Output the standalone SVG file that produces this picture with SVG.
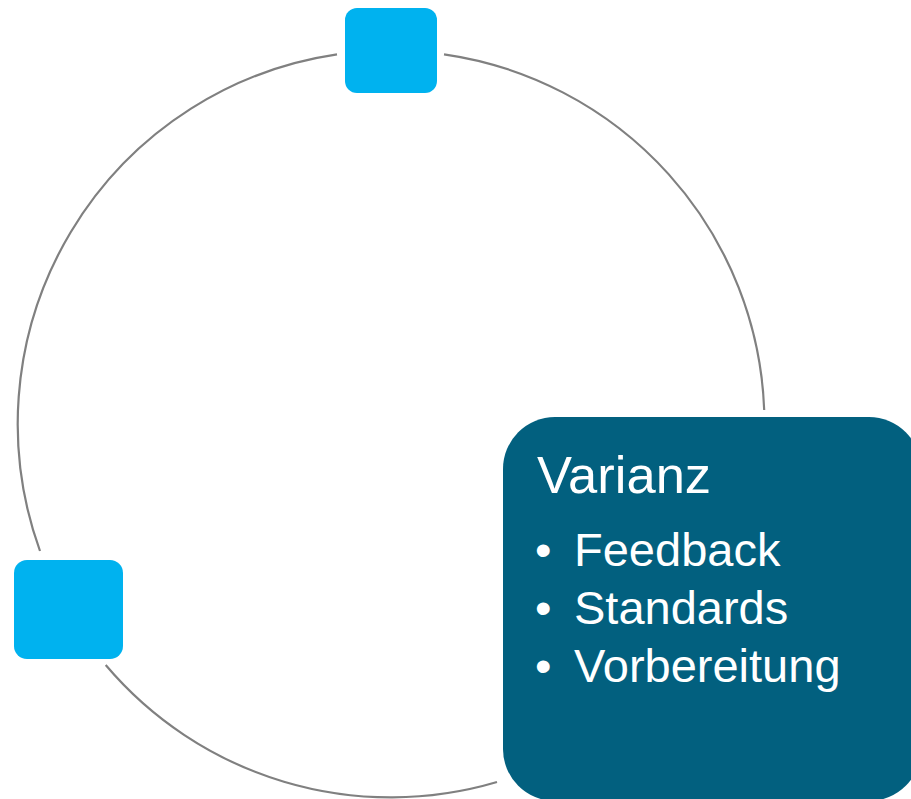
<svg xmlns="http://www.w3.org/2000/svg" width="911" height="799" viewBox="0 0 911 799">
<style>
.arc{fill:none;stroke:#808080;stroke-width:2.2}
.sq{fill:#00B2EF}
.big{fill:#02607F}
.t{font-family:"Liberation Sans",Arial,sans-serif;fill:#FFFFFF}
</style>
<rect width="911" height="799" fill="#FFFFFF"/>
<g id="connectors">
<path class="arc" d="M444,54.3 A373.5,373.5 0 0 1 764.2,410"/>
<path class="arc" d="M497,782 A373.5,373.5 0 0 1 105.7,665"/>
<path class="arc" d="M40,551 A373.5,373.5 0 0 1 337,54.4"/>
</g>
<g id="node-top">
<rect class="sq" x="345" y="8" width="92" height="85" rx="12"/>
</g>
<g id="node-left">
<rect class="sq" x="14" y="560" width="109" height="99" rx="13"/>
</g>
<g id="node-varianz">
<rect class="big" x="503" y="417" width="418" height="384" rx="52"/>
<text class="t" x="537" y="493" font-size="52.5">Varianz</text>
<text class="t" font-size="47">
<tspan x="535" y="566">•</tspan><tspan x="574" y="566">Feedback</tspan>
<tspan x="535" y="624">•</tspan><tspan x="574" y="624">Standards</tspan>
<tspan x="535" y="682">•</tspan><tspan x="574" y="682">Vorbereitung</tspan>
</text>
</g>
</svg>
